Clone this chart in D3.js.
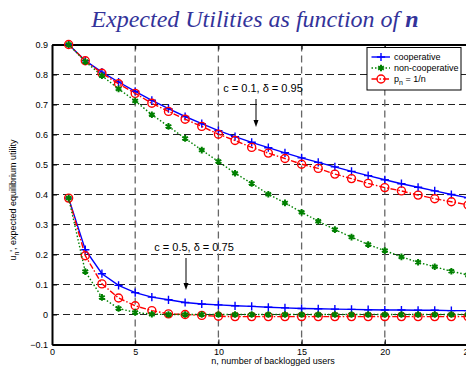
<!DOCTYPE html>
<html>
<head>
<meta charset="utf-8">
<script src="https://cdn.jsdelivr.net/npm/d3@7"></script>
<style>
  body { margin: 0; background: #fff; }
  svg { display: block; font-family: "Liberation Sans", Arial, sans-serif; }
</style>
</head>
<body>
<svg id="svg" width="466" height="371"></svg>
<script>
// n = 1..25
var nValues = d3.range(1, 26);

// c = 0.1, delta = 0.95
var coopHigh = [0.9, 0.846, 0.808, 0.775, 0.744, 0.714, 0.686, 0.660, 0.636, 0.613, 0.593, 0.574, 0.556,
                0.539, 0.522, 0.507, 0.492, 0.477, 0.463, 0.449, 0.436, 0.424, 0.412, 0.400, 0.389];
var nonCoopHigh = [0.9, 0.843, 0.796, 0.752, 0.712, 0.666, 0.627, 0.587, 0.548, 0.510, 0.471, 0.437, 0.401,
                   0.372, 0.341, 0.311, 0.283, 0.258, 0.233, 0.213, 0.192, 0.174, 0.159, 0.144, 0.132];
var pnHigh = [0.9, 0.846, 0.804, 0.769, 0.737, 0.704, 0.677, 0.651, 0.627, 0.601, 0.580, 0.557, 0.538,
              0.520, 0.501, 0.487, 0.468, 0.453, 0.437, 0.423, 0.412, 0.398, 0.386, 0.376, 0.365];

// c = 0.5, delta = 0.75
var coopLow = [0.388, 0.216, 0.136, 0.097, 0.073, 0.058, 0.049, 0.040, 0.035, 0.032, 0.029, 0.027, 0.024,
               0.022, 0.020, 0.019, 0.018, 0.017, 0.016, 0.015, 0.015, 0.014, 0.014, 0.013, 0.013];
var nonCoopLow = [0.388, 0.143, 0.057, 0.020, 0.007, 0.001, 0, 0, 0, 0, 0, 0, 0,
                  0, 0, 0, 0, 0, 0, 0, 0, 0, 0, 0, 0];
var pnLow = [0.388, 0.196, 0.102, 0.055, 0.029, 0.013, 0.002, 0.0, -0.003, -0.006, -0.007, -0.007, -0.007,
             -0.007, -0.007, -0.007, -0.007, -0.007, -0.007, -0.007, -0.007, -0.007, -0.007, -0.007, -0.007];

var xTicks = [0, 5, 10, 15, 20, 25];
var yTicks = [-0.1, 0, 0.1, 0.2, 0.3, 0.4, 0.5, 0.6, 0.7, 0.8, 0.9];

var svg = d3.select("#svg");

var margin = {left: 52, top: 44.5};
var plotRight = 468, plotBottom = 344.5;

var x = d3.scaleLinear().domain([0, 25]).range([margin.left, plotRight]);
var y = d3.scaleLinear().domain([-0.1, 0.9]).range([plotBottom, margin.top]);

// title
var title = svg.append("text")
    .attr("x", 255)
    .attr("y", 27)
    .attr("text-anchor", "middle")
    .style("font-family", "'Liberation Serif', 'Times New Roman', serif")
    .style("font-style", "italic")
    .style("font-size", "24px")
    .style("fill", "#33339a");
title.append("tspan").text("Expected Utilities as function of  ");
title.append("tspan").style("font-weight", "bold").text("n");

// grid
var grid = svg.append("g");
grid.selectAll(".hgrid")
    .data(yTicks.slice(1, -1))
    .enter().append("line")
    .attr("x1", margin.left).attr("x2", plotRight)
    .attr("y1", d => y(d)).attr("y2", d => y(d))
    .style("stroke", "#222")
    .style("stroke-width", 1)
    .style("stroke-dasharray", "7,4");
grid.selectAll(".vgrid")
    .data(xTicks.slice(1, -1))
    .enter().append("line")
    .attr("x1", d => x(d)).attr("x2", d => x(d))
    .attr("y1", margin.top).attr("y2", plotBottom)
    .style("stroke", "#666")
    .style("stroke-width", 1.3)
    .style("stroke-dasharray", "7,4");

// axes, MATLAB style (inward ticks)
var xAxis = svg.append("g")
    .attr("transform", "translate(0," + plotBottom + ")")
    .call(d3.axisBottom(x).tickValues(xTicks).tickSizeInner(-5).tickSizeOuter(0).tickPadding(3)
        .tickFormat(d3.format("d")));
var xTop = svg.append("g")
    .attr("transform", "translate(0," + margin.top + ")")
    .call(d3.axisTop(x).tickValues(xTicks).tickSizeInner(-5).tickSizeOuter(0).tickFormat(""));
var yAxis = svg.append("g")
    .attr("transform", "translate(" + margin.left + ",0)")
    .call(d3.axisLeft(y).tickValues(yTicks).tickSizeInner(-5).tickSizeOuter(0).tickPadding(4)
        .tickFormat(d => d === 0 ? "0" : d3.format(".1f")(d)));

[xAxis, xTop, yAxis].forEach(function(g) {
  g.select(".domain").style("stroke", "#000").style("stroke-width", 2);
  g.selectAll(".tick line").style("stroke", "#000").style("stroke-width", 1);
  g.selectAll(".tick text").style("font-size", "9px").style("fill", "#000")
    .style("font-family", "'Liberation Sans', Arial, sans-serif");
});
xAxis.selectAll(".tick text").attr("dy", "0.8em");

// axis labels
svg.append("text")
    .attr("x", 273)
    .attr("y", 364)
    .attr("text-anchor", "middle")
    .style("font-size", "9px")
    .text("n, number of backlogged users");

var yl = svg.append("text")
    .attr("transform", "translate(16,200) rotate(-90)")
    .attr("text-anchor", "middle")
    .style("font-size", "9px");
yl.append("tspan").text("u");
yl.append("tspan").attr("dy", 2.5).style("font-size", "7px").text("n");
yl.append("tspan").attr("dy", -2.5).text("', expected equilibrium utility");

// series
var series = [
  {name: "coop", color: "#0000ff", dash: null, marker: "plus"},
  {name: "pn", color: "#ff0000", dash: "6,2,1.5,2", marker: "circle"},
  {name: "non", color: "#008000", dash: "1.5,2", marker: "star"}
];
var valuesFor = {
  coop: [coopHigh, coopLow],
  non: [nonCoopHigh, nonCoopLow],
  pn: [pnHigh, pnLow]
};

var line = d3.line().x((d, i) => x(nValues[i])).y(d => y(d));

var plotG = svg.append("g");

function drawMarker(g, s, px, py) {
  if (s.marker === "plus") {
    g.append("path")
      .attr("transform", "translate(" + px + "," + py + ")")
      .attr("d", d3.symbol(d3.symbolPlus, 24)())
      .style("fill", "none").style("stroke", s.color).style("stroke-width", 1.4);
  } else if (s.marker === "circle") {
    g.append("circle")
      .attr("cx", px).attr("cy", py).attr("r", 4)
      .style("fill", "none").style("stroke", s.color).style("stroke-width", 1.4);
  } else {
    g.append("path")
      .attr("transform", "translate(" + px + "," + py + ")")
      .attr("d", d3.symbol(d3.symbolAsterisk, 30)())
      .style("fill", "none").style("stroke", s.color).style("stroke-width", 2);
  }
}

series.forEach(function(s) {
  valuesFor[s.name].forEach(function(vals) {
    plotG.append("path")
      .attr("d", line(vals))
      .style("fill", "none")
      .style("stroke", s.color)
      .style("stroke-width", 1.4)
      .style("stroke-dasharray", s.dash);
    vals.forEach(function(v, i) {
      drawMarker(plotG, s, x(nValues[i]), y(v));
    });
  });
});

// annotations
function annotate(txt, tx, ty, ax, ay1, ay2) {
  svg.append("text")
    .attr("x", tx).attr("y", ty)
    .attr("text-anchor", "middle")
    .style("font-size", "11px")
    .text(txt);
  svg.append("line")
    .attr("x1", ax).attr("x2", ax).attr("y1", ay1).attr("y2", ay2 - 6)
    .style("stroke", "#000").style("stroke-width", 1);
  svg.append("path")
    .attr("d", d3.line()([[ax - 2.5, ay2 - 7], [ax + 2.5, ay2 - 7], [ax, ay2]]) + "Z")
    .style("fill", "#000");
}
annotate("c = 0.1, \u03b4 = 0.95", 263, 92, 256, 99, 127);
annotate("c = 0.5, \u03b4 = 0.75", 194, 251, 186, 258, 290);

// legend
var legendNames = ["cooperative", "non-cooperative", "p_n = 1/n"];
var legendOrder = [series[0], series[2], series[1]];
var lg = svg.append("g").attr("transform", "translate(367,47.5)");
lg.append("rect")
  .attr("width", 94).attr("height", 42.5)
  .style("fill", "#fff").style("stroke", "#000").style("stroke-width", 1);
legendOrder.forEach(function(s, i) {
  var ly = 9.5 + i * 11;
  lg.append("line")
    .attr("x1", 4.5).attr("x2", 23).attr("y1", ly).attr("y2", ly)
    .style("stroke", s.color).style("stroke-width", 1.4)
    .style("stroke-dasharray", s.dash);
  drawMarker(lg, s, 14, ly);
  var t = lg.append("text")
    .attr("x", 27).attr("y", ly + 3)
    .style("font-size", "9px");
  if (i === 2) {
    t.append("tspan").text("p");
    t.append("tspan").attr("dy", 2.5).style("font-size", "7px").text("n");
    t.append("tspan").attr("dy", -2.5).text(" = 1/n");
  } else {
    t.text(legendNames[i]);
  }
});
</script>
</body>
</html>
